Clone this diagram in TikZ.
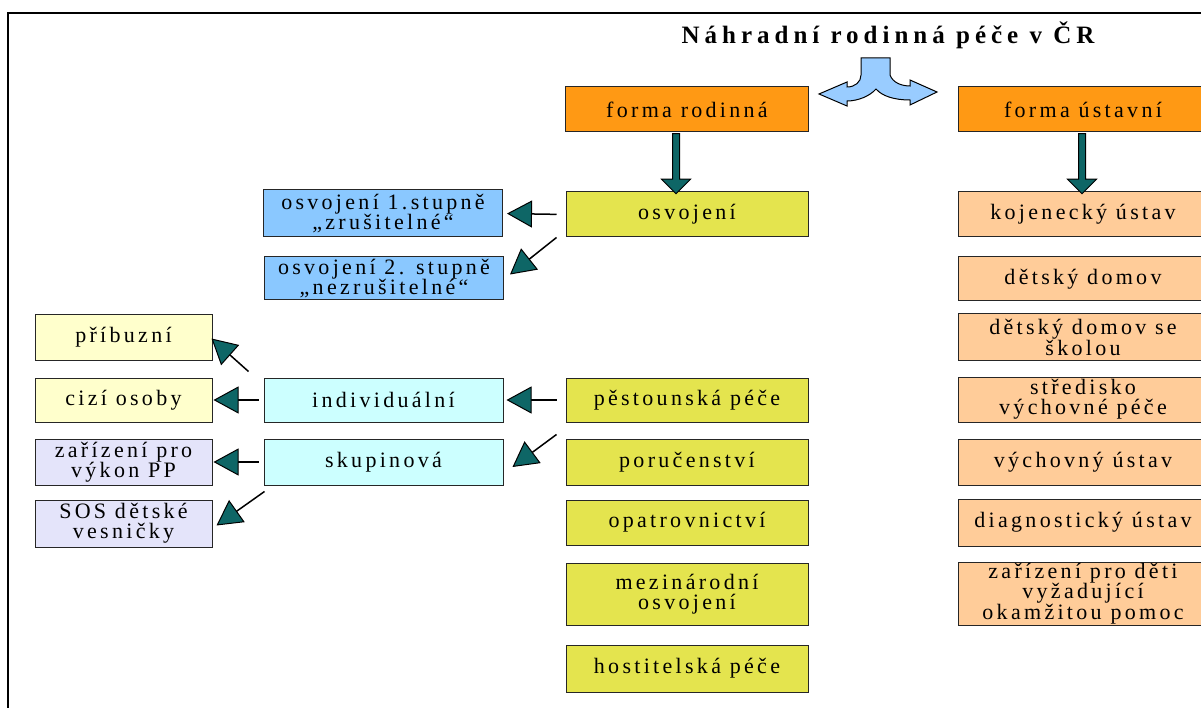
\documentclass[tikz,border=0pt]{standalone}
\usepackage{fontspec}
\setmainfont{Liberation Serif}[LetterSpace=15]
\usetikzlibrary{arrows.meta}
\usetikzlibrary{shapes.arrows}
\definecolor{rodorange}{RGB}{255,153,20}
\definecolor{osvyellow}{RGB}{228,228,78}
\definecolor{osvblue}{RGB}{138,200,255}
\definecolor{palecyan}{RGB}{204,255,255}
\definecolor{paleyellow}{RGB}{255,255,204}
\definecolor{palelav}{RGB}{228,228,250}
\definecolor{peach}{RGB}{255,204,153}
\definecolor{splitblue}{RGB}{153,204,255}
\definecolor{headteal}{RGB}{14,102,102}
\tikzstyle{box} = [draw=black!85, line width=1pt, align=center, inner sep=1pt, minimum height=45pt, font=\fontsize{22}{20}\selectfont]
\tikzstyle{leftbox} = [box, minimum width=177pt]
\tikzstyle{subbox} = [box, minimum width=239pt]
\tikzstyle{midbox} = [box, minimum width=242pt, fill=osvyellow]
\tikzstyle{rightbox} = [box, minimum width=250pt, fill=peach]
\tikzstyle{link} = [line width=1.5pt, -{Triangle[length=25pt, width=27pt, fill=headteal, line width=1pt]}]
\tikzstyle{blockarrow} = [draw=black, line width=1pt, fill=headteal, single arrow, rotate=-90, minimum height=60pt, inner xsep=0pt, inner ysep=3pt, single arrow head extend=11pt, single arrow tip angle=90]

\begin{document}
\begin{tikzpicture}[x=1pt, y=-1pt]
	\useasboundingbox (0,0) rectangle (1201,708);
	\clip (0,0) rectangle (1201,708);
	\draw[line width=1.3pt] (8,708) -- (8,13) -- (1201,13);

	\node[font=\fontsize{25}{28}\selectfont\bfseries\addfontfeatures{LetterSpace=20}](title) at (888,35){Náhradní rodinná péče v ČR};

	% split arrow under the title
	\draw[fill=splitblue, line width=1pt] (861,58) -- (890,58) -- (890,75)
		.. controls (893,83) and (902,86) .. (910,86) -- (910,80) -- (937,92) -- (910,105) -- (910,100)
		.. controls (894,100) and (882,96) .. (876,89)
		.. controls (870,96) and (858,101) .. (847,101) -- (847,106) -- (819,94) -- (847,82) -- (847,87)
		.. controls (855,87) and (861,82) .. (861,75) -- cycle;

	\node[box, minimum width=243pt, fill=rodorange](rodinna) at (687,109.5){forma rodinná};
	\node[rightbox, fill=rodorange](ustavni) at (1083,109.5){forma ústavní};

	\node[midbox](osvojeni) at (687,214.5){osvojení};
	\node[midbox, minimum height=44pt](pestoun) at (687,400){pěstounská péče};
	\node[midbox, minimum height=46pt](porucenstvi) at (687,462){poručenství};
	\node[midbox](opatrovnictvi) at (687,522.5){opatrovnictví};
	\node[midbox, minimum height=62pt](mezinarodni) at (687,594){mezinárodní\\osvojení};
	\node[midbox, minimum height=47pt](hostitelska) at (687,668.5){hostitelská péče};

	\node[subbox, minimum height=47pt, fill=osvblue](osvA) at (383,213.5){osvojení 1.stupně\\„zrušitelné“};
	\node[subbox, minimum height=43pt, fill=osvblue](osvB) at (384,278.5){osvojení 2. stupně\\„nezrušitelné“};
	\node[subbox, minimum height=44pt, fill=palecyan](individualni) at (383.5,400){individuální};
	\node[subbox, minimum height=46pt, fill=palecyan](skupinova) at (383.5,462){skupinová};

	\node[leftbox, fill=paleyellow](pribuzni) at (123.5,337.5){příbuzní};
	\node[leftbox, minimum height=44pt, fill=paleyellow](cizi) at (123.5,400){cizí osoby};
	\node[leftbox, minimum height=46pt, fill=palelav](zarizeniPP) at (123.5,462){zařízení pro\\výkon PP};
	\node[leftbox, minimum height=47pt, fill=palelav](sos) at (123.5,523.5){SOS dětské\\vesničky};

	\node[rightbox](kojenecky) at (1083,214.5){kojenecký ústav};
	\node[rightbox, minimum height=44pt](detsky) at (1083,279){dětský domov};
	\node[rightbox, minimum height=46pt](skolou) at (1083,337){dětský domov se\\školou};
	\node[rightbox](stredisko) at (1083,399.5){středisko\\výchovné péče};
	\node[rightbox, minimum height=46pt](vychovny) at (1083,462){výchovný ústav};
	\node[rightbox, minimum height=47pt](diagnosticky) at (1083,522.5){diagnostický ústav};
	\node[rightbox, minimum height=62pt](okamzita) at (1083,594){zařízení pro děti\\vyžadující\\okamžitou pomoc};

	% block arrows
	\path (rodinna.south) -- (osvojeni.north) node[midway, xshift=-11pt, blockarrow]{};
	\path (ustavni.south) -- (kojenecky.north) node[midway, xshift=-1pt, blockarrow]{};

	% links
	\draw[link, shorten <=9pt, shorten >=4pt](osvojeni.west) -- (osvA.east);
	\draw[link]([xshift=-9pt]osvojeni.south west) -- ([xshift=6pt, yshift=-18pt]osvB.north east);
	\draw[link, shorten <=9pt, shorten >=3pt](pestoun.west) -- (individualni.east);
	\draw[link]([xshift=-9pt, yshift=-12pt]pestoun.south west) -- ([xshift=9pt, yshift=-5pt]skupinova.east);
	\draw[link, shorten <=5pt, shorten >=1pt](individualni.west) -- (cizi.east);
	\draw[link]([xshift=-15pt, yshift=6pt]individualni.north west) -- ([xshift=-1pt, yshift=-1pt]pribuzni.east);
	\draw[link, shorten <=5pt, shorten >=1pt](skupinova.west) -- (zarizeniPP.east);
	\draw[link]([xshift=1pt, yshift=-6pt]skupinova.south west) -- ([xshift=4pt, yshift=-2pt]sos.east);
\end{tikzpicture}
\end{document}
